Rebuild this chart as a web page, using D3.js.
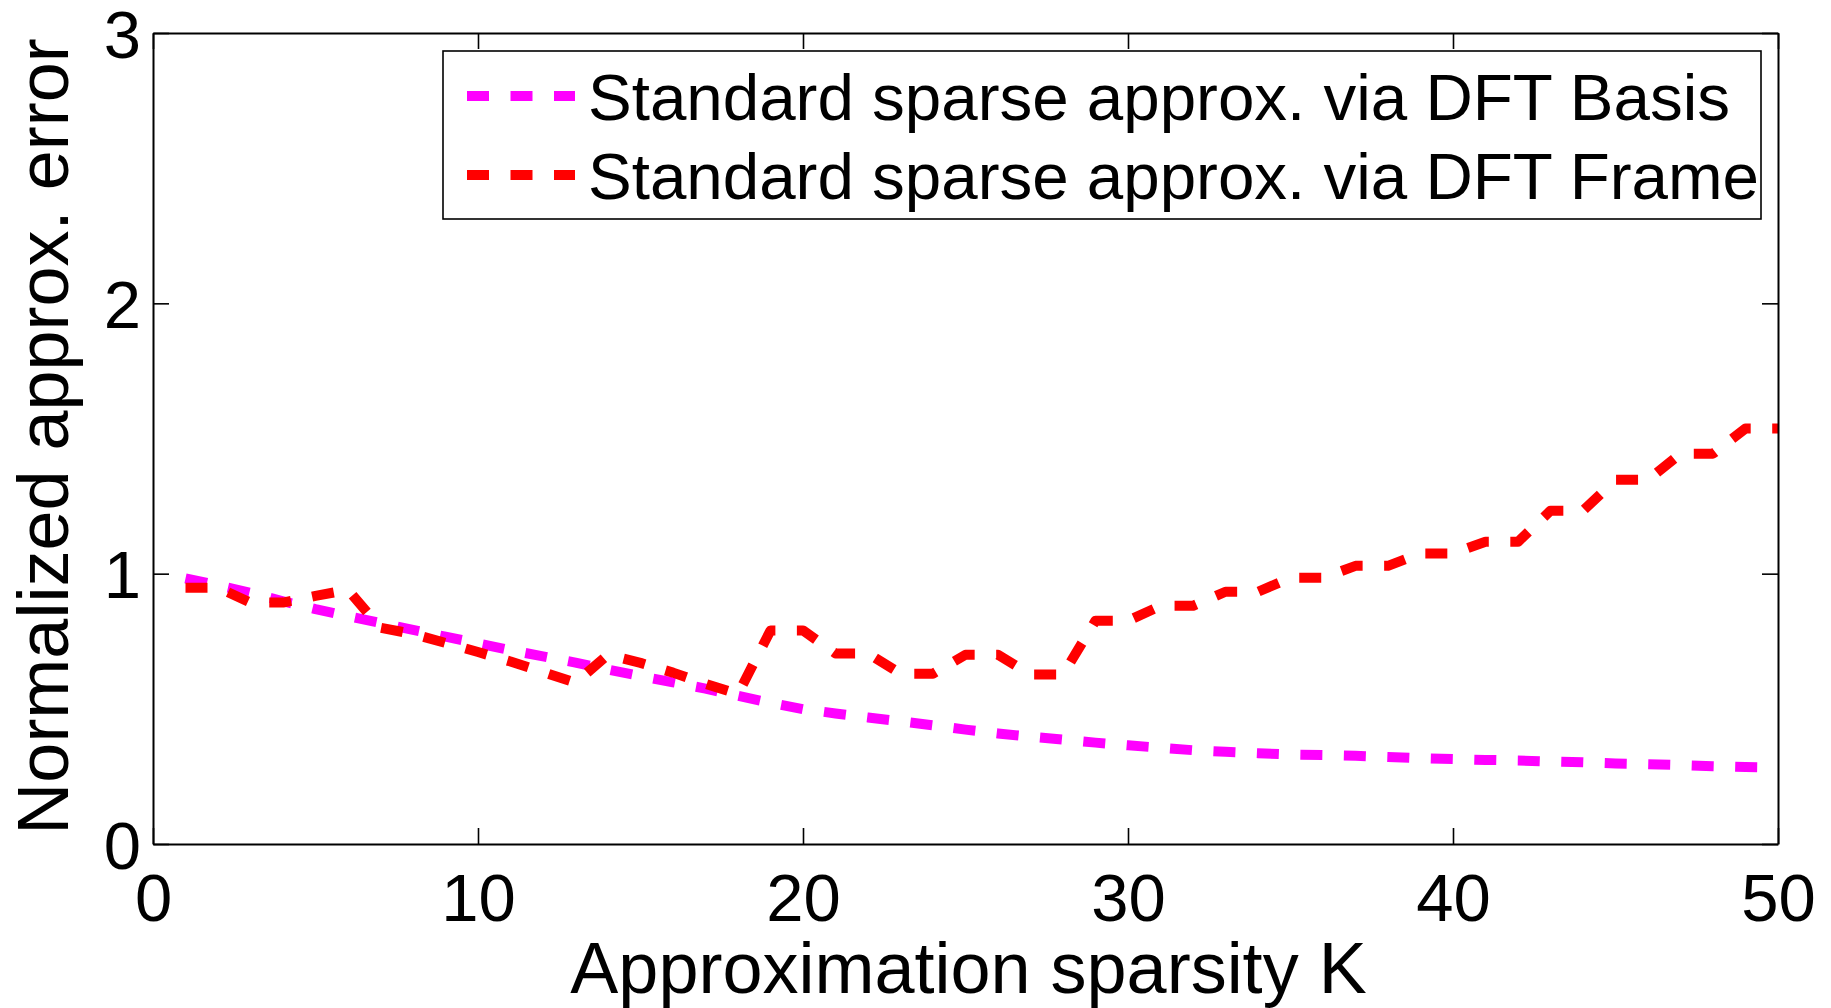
<!DOCTYPE html>
<html>
<head>
<meta charset="utf-8">
<script src="https://cdn.jsdelivr.net/npm/d3@7/dist/d3.min.js"></script>
<style>
  body { margin: 0; background: #fff; }
  svg text { font-family: "Liberation Sans", Arial, Helvetica, sans-serif; fill: #000; }
  .axis path, .axis line { stroke: #000; }
</style>
</head>
<body>
<div id="chart"></div>
<script>
// Approximation sparsity K (x values)
const sparsityK = [1, 2, 3, 4, 5, 6, 7, 8, 9, 10,
  11, 12, 13, 14, 15, 16, 17, 18, 19, 20,
  21, 22, 23, 24, 25, 26, 27, 28, 29, 30,
  31, 32, 33, 34, 35, 36, 37, 38, 39, 40,
  41, 42, 43, 44, 45, 46, 47, 48, 49, 50];

// Normalized approx. error, DFT basis (magenta)
const basisError = [0.983, 0.957, 0.929, 0.898, 0.869, 0.843, 0.818, 0.792, 0.767, 0.742,
  0.717, 0.694, 0.671, 0.645, 0.621, 0.598, 0.575, 0.548, 0.522, 0.499,
  0.483, 0.468, 0.454, 0.439, 0.423, 0.409, 0.397, 0.386, 0.375, 0.365,
  0.356, 0.347, 0.341, 0.336, 0.331, 0.329, 0.326, 0.322, 0.317, 0.314,
  0.311, 0.309, 0.305, 0.302, 0.298, 0.295, 0.292, 0.288, 0.285, 0.283];

// Normalized approx. error, DFT frame (red)
const frameError = [0.948, 0.948, 0.893, 0.893, 0.918, 0.940, 0.800, 0.777, 0.744, 0.710,
  0.675, 0.636, 0.597, 0.700, 0.670, 0.634, 0.592, 0.555, 0.790, 0.790,
  0.705, 0.705, 0.630, 0.630, 0.700, 0.700, 0.627, 0.627, 0.826, 0.826,
  0.881, 0.881, 0.933, 0.933, 0.985, 0.985, 1.029, 1.029, 1.075, 1.075,
  1.118, 1.118, 1.233, 1.233, 1.347, 1.347, 1.444, 1.444, 1.537, 1.537];

const seriesNames = ["Standard sparse approx. via DFT Basis", "Standard sparse approx. via DFT Frame"];
const xTicks = [0, 10, 20, 30, 40, 50];
const yTicks = [0, 1, 2, 3];
const xLabel = "Approximation sparsity K";
const yLabel = "Normalized approx. error";

const W = 1831, H = 1008;
const plot = { left: 153, right: 1778, top: 33, bottom: 844 };
const tickLen = 16;
const tickFont = 67, labelFont = 72, legendFont = 65.5;
const lineWidth = 10;
const dash = "22,21.5";
const colors = ["#ff00ff", "#ff0000"];

const svg = d3.select("#chart").append("svg")
  .attr("width", W)
  .attr("height", H)
  .attr("viewBox", `0 0 ${W} ${H}`);

const x = d3.scaleLinear().domain([0, 50]).range([plot.left, plot.right]);
const y = d3.scaleLinear().domain([0, 3]).range([plot.bottom, plot.top]);

// series
const series = [
  sparsityK.map((k, i) => ({ k: k, v: basisError[i] })),
  sparsityK.map((k, i) => ({ k: k, v: frameError[i] }))
];

const line = d3.line().x(d => x(d.k)).y(d => y(d.v));

series.forEach((s, i) => {
  svg.append("path")
    .datum(s)
    .attr("d", line)
    .attr("fill", "none")
    .attr("stroke", colors[i])
    .attr("stroke-width", lineWidth)
    .attr("stroke-dasharray", dash)
    .attr("stroke-linejoin", "round");
});

// axes (ticks point inward, box on)
const fmt = d3.format("d");

const bottomAxis = svg.append("g").attr("class", "axis")
  .attr("transform", `translate(0,${plot.bottom})`)
  .call(d3.axisBottom(x).tickValues(xTicks).tickFormat(fmt)
    .tickSizeInner(-tickLen).tickSizeOuter(0).tickPadding(29));
bottomAxis.selectAll("text").attr("font-size", tickFont).attr("dy", "0.716em");

svg.append("g").attr("class", "axis")
  .attr("transform", `translate(0,${plot.top})`)
  .call(d3.axisTop(x).tickValues(xTicks).tickFormat("").tickSizeInner(-tickLen).tickSizeOuter(0));

const leftAxis = svg.append("g").attr("class", "axis")
  .attr("transform", `translate(${plot.left},0)`)
  .call(d3.axisLeft(y).tickValues(yTicks).tickFormat(fmt)
    .tickSizeInner(-tickLen).tickSizeOuter(0).tickPadding(12));
leftAxis.selectAll("text").attr("font-size", tickFont).attr("dy", "0.36em");

svg.append("g").attr("class", "axis")
  .attr("transform", `translate(${plot.right},0)`)
  .call(d3.axisRight(y).tickValues(yTicks).tickFormat("").tickSizeInner(-tickLen).tickSizeOuter(0));

svg.selectAll(".axis .domain").attr("stroke-width", 2);
svg.selectAll(".axis .tick line").attr("stroke-width", 1.6);
svg.selectAll(".axis").attr("font-family", null);

// axis labels
svg.append("text")
  .attr("x", (plot.left + plot.right) / 2 + 3)
  .attr("y", 993)
  .attr("text-anchor", "middle")
  .attr("font-size", labelFont)
  .text(xLabel);

svg.append("text")
  .attr("transform", `translate(68,${(plot.top + plot.bottom) / 2 - 2}) rotate(-90)`)
  .attr("text-anchor", "middle")
  .attr("font-size", labelFont)
  .text(yLabel);

// legend
const legend = svg.append("g").attr("class", "legend");
legend.append("rect")
  .attr("x", 443).attr("y", 51)
  .attr("width", 1761 - 443).attr("height", 219 - 51)
  .attr("fill", "#fff")
  .attr("stroke", "#000")
  .attr("stroke-width", 1.6);

const rowY = [96, 175];
seriesNames.forEach((name, i) => {
  legend.append("line")
    .attr("x1", 467).attr("x2", 575)
    .attr("y1", rowY[i]).attr("y2", rowY[i])
    .attr("stroke", colors[i])
    .attr("stroke-width", lineWidth)
    .attr("stroke-dasharray", dash);
  legend.append("text")
    .attr("x", 588)
    .attr("y", rowY[i])
    .attr("dy", "0.36em")
    .attr("font-size", legendFont)
    .text(name);
});
</script>
</body>
</html>
